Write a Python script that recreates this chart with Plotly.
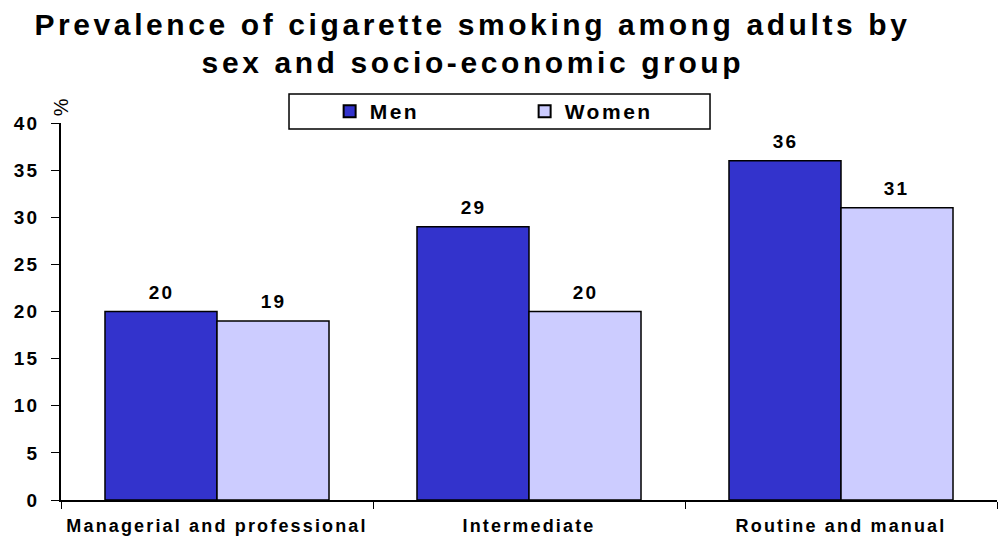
import plotly.graph_objects as go

categories = ["Managerial and professional", "Intermediate", "Routine and manual"]
men = [20, 29, 36]
women = [19, 20, 31]
y_ticks = [0, 5, 10, 15, 20, 25, 30, 35, 40]
title_lines = ["Prevalence of cigarette smoking among adults by",
               "sex and socio-economic group"]

FONT = "Liberation Sans"
MEN_COLOR = "#3333CC"
WOMEN_COLOR = "#CCCCFF"
BAR_OFFSET_PX = 56  # half a bar width: centre of each bar relative to its category

fig = go.Figure()
for name, vals, color in [("Men", men, MEN_COLOR), ("Women", women, WOMEN_COLOR)]:
    fig.add_trace(go.Bar(
        name=name, x=categories, y=vals,
        marker=dict(color=color, line=dict(color="black", width=1.5)),
    ))

# Value labels above each bar
for vals, shift in [(men, -BAR_OFFSET_PX), (women, BAR_OFFSET_PX)]:
    for cat, v in zip(categories, vals):
        fig.add_annotation(
            x=cat, y=v, text=f"<b>{v}</b>", showarrow=False,
            xanchor="center", yanchor="bottom", xshift=shift, yshift=7,
            font=dict(family=FONT, size=19, color="black"),
        )

fig.update_layout(
    width=999, height=544,
    margin=dict(l=61, r=2, t=123, b=44),
    paper_bgcolor="white", plot_bgcolor="white",
    barmode="group", bargap=0.282, bargroupgap=0,
    legend=dict(
        orientation="h", x=0.287, xanchor="left", y=1.0305, yanchor="middle",
        borderwidth=0, bgcolor="rgba(0,0,0,0)",
        font=dict(family=FONT, size=21, color="black", weight="bold"),
        entrywidth=150, entrywidthmode="pixels", itemsizing="constant",
    ),
    xaxis=dict(
        showline=True, linecolor="black", linewidth=1.5,
        ticks="outside", tickson="boundaries", ticklen=7, tickcolor="black",
        tickfont=dict(family=FONT, size=18, color="black", weight="bold"),
        ticklabelstandoff=9,
        showgrid=False,
    ),
    yaxis=dict(
        range=[0, 40], tickvals=y_ticks,
        showline=True, linecolor="black", linewidth=1.5,
        ticks="outside", ticklen=8, tickcolor="black",
        tickfont=dict(family=FONT, size=19, color="black", weight="bold"),
        ticklabelstandoff=8,
        showgrid=False, zeroline=False,
    ),
    showlegend=True,
)

# Frame around the legend
fig.add_shape(
    type="rect", xref="paper", yref="paper",
    x0=0.2436, x1=0.6934, y0=0.984, y1=1.0769,
    line=dict(color="black", width=1.5), fillcolor="rgba(0,0,0,0)", layer="above",
)

# Two-line title
for line, ypos in zip(title_lines, [1.262, 1.161]):
    fig.add_annotation(
        text=f"<b>{line}</b>",
        xref="paper", yref="paper", x=0.440, y=ypos, xanchor="center", yanchor="middle",
        showarrow=False,
        font=dict(family=FONT, size=30, color="black"),
    )

# Unit label above the y axis
fig.add_annotation(
    text="%", textangle=-90, xref="paper", yref="paper",
    x=0, y=1.045, xanchor="center", yanchor="middle", showarrow=False,
    font=dict(family=FONT, size=20, color="black"),
)

spacing_js = """
var gd = document.getElementById('{plot_id}');
function spaceText() {
  gd.querySelectorAll('text').forEach(function (t) {
    var fs = parseFloat(t.style.fontSize) || 12;
    t.style.letterSpacing = (0.12 * fs) + 'px';
  });
}
spaceText();
gd.on('plotly_afterplot', spaceText);
"""

fig.write_html("out.html", post_script=spacing_js)
